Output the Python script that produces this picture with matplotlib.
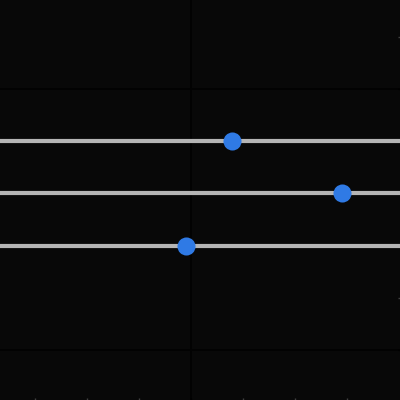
import matplotlib
matplotlib.use("Agg")
import matplotlib.pyplot as plt
import numpy as np

# data
categories = ["A", "B", "C"]
row_pos = [1, 0, -1]
values = [7.9, 29.0, -1.0]

x_ticks = [-30, -20, -10, 0, 10, 20, 30]
y_ticks = [-3, -2, -1, 0, 1, 2, 3]
x_grid = [0]
y_grid = [-3, 2]

bg = "#080808"
fig = plt.figure(figsize=(4, 4), dpi=100, facecolor=bg)
ax = fig.add_axes([0, 0, 1, 1], facecolor=bg)

# track lines across the whole width
for y in row_pos:
    ax.axhline(y, color="#b5b5b5", lw=3.0, zorder=2)

ax.plot(values, row_pos, "o", color="#2f7ae5", ms=13, mec="none", zorder=3)

ax.set_xlim(-36.7, 40.2)
ax.set_ylim(-3.97, 3.72)

# faint gridlines only at a few positions
ax.set_xticks(x_grid)
ax.set_yticks(y_grid)
ax.grid(True, color="#020202", lw=1.3, zorder=1)
ax.set_xticks(x_ticks, minor=True)
ax.set_yticks(y_ticks, minor=True)
ax.set_xticklabels([])
ax.set_yticklabels([])
ax.tick_params(which="both", direction="in", length=1.5, width=1,
               color="#404040", bottom=True, right=True, left=False, top=False)
ax.tick_params(which="major", color="#000000")
for s in ax.spines.values():
    s.set_visible(False)

fig.savefig("out.png", dpi=100, facecolor=bg)
